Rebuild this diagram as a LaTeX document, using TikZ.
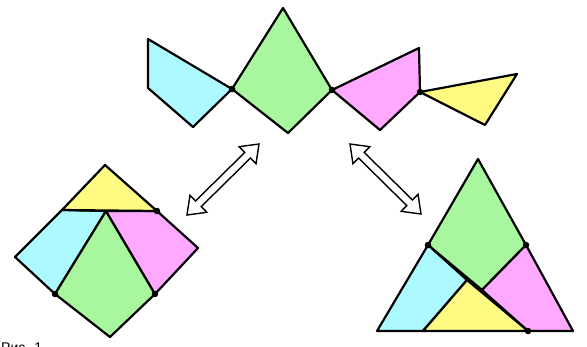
\documentclass[tikz,border=0pt]{standalone}
\usepackage{fontspec}
\newfontfamily\cyrfont{Liberation Sans}
\usetikzlibrary{calc}
\definecolor{pcyan}{RGB}{172,250,255}
\definecolor{pgreen}{RGB}{168,246,158}
\definecolor{pmag}{RGB}{255,168,255}
\definecolor{pyel}{RGB}{255,250,130}
\newcommand\dblhollow[2]{%
  \draw[arrowshape]
    (#1) -- ($($(#1)!16pt!(#2)$)!12pt!90:(#2)$)
         -- ($($(#1)!16pt!(#2)$)!4pt!90:(#2)$)
         -- ($($(#2)!16pt!(#1)$)!4pt!-90:(#1)$)
         -- ($($(#2)!16pt!(#1)$)!12pt!-90:(#1)$)
         -- (#2)
         -- ($($(#2)!16pt!(#1)$)!12pt!90:(#1)$)
         -- ($($(#2)!16pt!(#1)$)!4pt!90:(#1)$)
         -- ($($(#1)!16pt!(#2)$)!4pt!-90:(#2)$)
         -- ($($(#1)!16pt!(#2)$)!12pt!-90:(#2)$)
         -- cycle;}
\begin{document}
\begin{tikzpicture}[x=1pt,y=-1pt,
  piece/.style={draw=black, line width=2.2pt, line join=round},
  hinge/.style={circle, fill=black, inner sep=0pt, minimum size=6.5pt},
  arrowshape/.style={draw=black, fill=white, line width=1.4pt, line join=miter}]
\useasboundingbox (0,0) rectangle (587,346);
\clip (0,0) rectangle (587,346);
% ---------- top: hinged chain ----------
\coordinate (tc1) at (148,39);  \coordinate (tc2) at (148,88);
\coordinate (tc3) at (193,127); \coordinate (th1) at (232,89);
\coordinate (tg1) at (283,8);   \coordinate (th2) at (332,90);
\coordinate (tg3) at (288,133);
\coordinate (tm1) at (419,48);  \coordinate (th3) at (420,92);
\coordinate (tm3) at (380,130);
\coordinate (ty1) at (517,74);  \coordinate (ty2) at (485,125);
\fill[pcyan] (tc1) -- (tc2) -- (tc3) -- (th1) -- cycle;
\draw[piece] (tc1) -- (tc2) -- (tc3) -- (th1) -- cycle;
\draw[piece, fill=pgreen] (tg1) -- (th2) -- (tg3) -- (th1) -- cycle;
\draw[piece, fill=pmag] (th2) -- (tm1) -- (th3) -- (tm3) -- cycle;
\draw[piece, fill=pyel] (th3) -- (ty1) -- (ty2) -- cycle;
\node[hinge] (tdot1) at (th1) {};
\node[hinge] (tdot2) at (th2) {};
\node[hinge] (tdot3) at (th3) {};
% ---------- bottom left: square ----------
\coordinate (sT) at (105,165); \coordinate (sR) at (198,248);
\coordinate (sB) at (110,337); \coordinate (sL) at (15,257);
\coordinate (sY) at (62,210);  \coordinate (sH1) at (157,211);
\coordinate (sP) at (106,211);
\coordinate (sH2) at (55,294); \coordinate (sH3) at (155,294);
\draw[piece, fill=pcyan] (sY) -- (sP) -- (sH2) -- (sL) -- cycle;
\draw[piece, fill=pgreen] (sP) -- (sH3) -- (sB) -- (sH2) -- cycle;
\draw[piece, fill=pmag] (sP) -- (sH1) -- (sR) -- (sH3) -- cycle;
\draw[piece, fill=pyel] (sT) -- (sH1) -- (sY) -- cycle;
\node[hinge] (sdot1) at (sH1) {};
\node[hinge] (sdot2) at (sH2) {};
\node[hinge] (sdot3) at (sH3) {};
% ---------- bottom right: triangle ----------
\coordinate (rA) at (478,159); \coordinate (rBL) at (377,331);
\coordinate (rBR) at (573,331);
\coordinate (rLH) at (428,245); \coordinate (rRH) at (526,245);
\coordinate (rQ) at (482,290);  \coordinate (rR) at (467,280);
\coordinate (rYL) at (423,331); \coordinate (rYR) at (528,331);
\draw[piece, fill=pgreen] (rA) -- (rRH) -- (rQ) -- (rLH) -- cycle;
\draw[piece, fill=pcyan] (rLH) -- (rR) -- (rYL) -- (rBL) -- cycle;
\draw[piece, fill=pmag] (rRH) -- (rBR) -- (rYR) -- (rQ) -- cycle;
\draw[piece, fill=pyel] (rR) -- (rYR) -- (rYL) -- cycle;
\node[hinge] (rdot1) at (rLH) {};
\node[hinge] (rdot2) at (rRH) {};
\node[hinge] (rdot3) at (rYR) {};
% ---------- arrows ----------
\coordinate (la1) at (187,215); \coordinate (la2) at (259,144);
\coordinate (ra1) at (350,144); \coordinate (ra2) at (421,214);
\dblhollow{la1}{la2}
\dblhollow{ra1}{ra2}
% ---------- caption (cut by the frame) ----------
\node[anchor=base west, inner sep=0pt, font=\cyrfont\fontsize{14}{14}\selectfont] (cap) at (1,352) {Рис. 1};
\end{tikzpicture}
\end{document}
